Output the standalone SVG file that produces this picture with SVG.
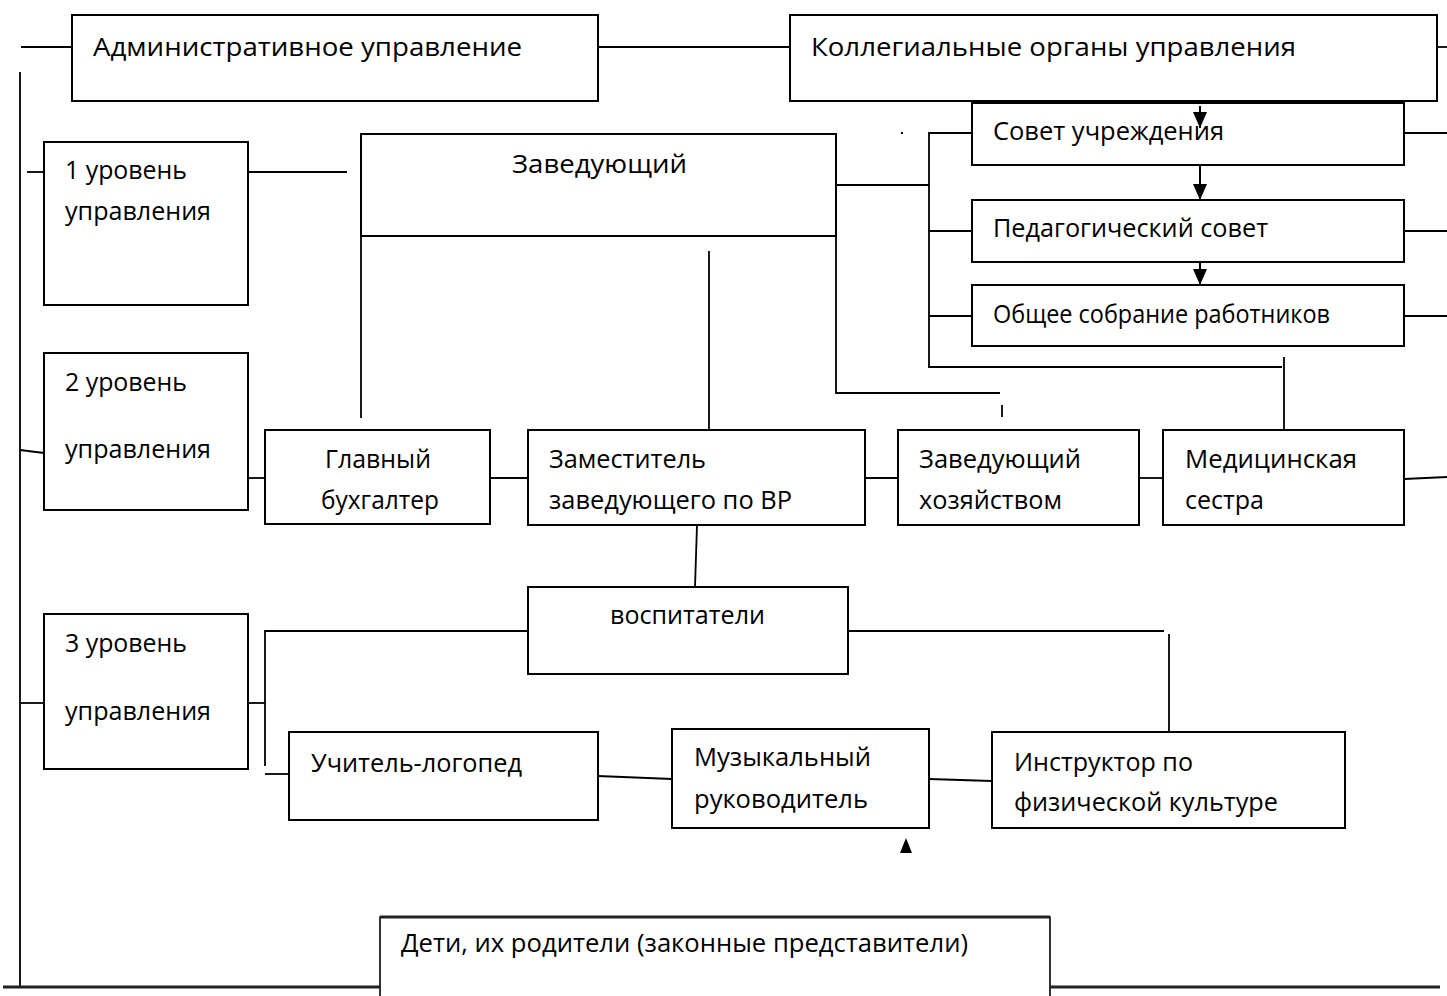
<svg xmlns="http://www.w3.org/2000/svg" width="1447" height="996" viewBox="0 0 1447 996">
<style>
.box{fill:#fff;stroke:#000;stroke-width:2}
.ln{fill:none;stroke:#000;stroke-width:1.8}
.thick{fill:none;stroke:#222;stroke-width:3}
.t{font-family:"Open Sans","Noto Sans","Liberation Sans",sans-serif;font-size:25px;fill:#000}
.arr{fill:none;stroke:#000;stroke-width:2;marker-end:url(#ah)}
</style>
<defs>
<marker id="ah" markerUnits="userSpaceOnUse" markerWidth="16" markerHeight="14" refX="16" refY="7" orient="auto">
<path d="M0,0 L16,7 L0,14 z" fill="#000"/>
</marker>
</defs>
<rect width="1447" height="996" fill="#fff"/>

<g id="admin">
<rect class="box" x="72" y="15" width="526" height="86"/>
<text class="t" x="93" y="56" textLength="429" lengthAdjust="spacingAndGlyphs">Административное управление</text>
</g>
<g id="collegial">
<rect class="box" x="790" y="15" width="647" height="86"/>
<text class="t" x="811" y="56" textLength="485" lengthAdjust="spacingAndGlyphs">Коллегиальные органы управления</text>
</g>
<g id="level1">
<rect class="box" x="44" y="142" width="204" height="163"/>
<text class="t" x="65" y="179" textLength="122" lengthAdjust="spacingAndGlyphs">1 уровень</text>
<text class="t" x="65" y="220" textLength="146" lengthAdjust="spacingAndGlyphs">управления</text>
</g>
<g id="head">
<rect class="box" x="361" y="134" width="475" height="102"/>
<text class="t" x="512" y="173" textLength="175" lengthAdjust="spacingAndGlyphs">Заведующий</text>
</g>
<g id="council">
<rect class="box" x="972" y="103" width="432" height="62"/>
<text class="t" x="993" y="140" textLength="231" lengthAdjust="spacingAndGlyphs">Совет учреждения</text>
</g>
<g id="pedcouncil">
<rect class="box" x="972" y="200" width="432" height="62"/>
<text class="t" x="993" y="237" textLength="275" lengthAdjust="spacingAndGlyphs">Педагогический совет</text>
</g>
<g id="assembly">
<rect class="box" x="972" y="285" width="432" height="61"/>
<text class="t" x="993" y="323" textLength="337" lengthAdjust="spacingAndGlyphs">Общее собрание работников</text>
</g>
<g id="level2">
<rect class="box" x="44" y="353" width="204" height="157"/>
<text class="t" x="65" y="391" textLength="122" lengthAdjust="spacingAndGlyphs">2 уровень</text>
<text class="t" x="65" y="458" textLength="146" lengthAdjust="spacingAndGlyphs">управления</text>
</g>
<g id="accountant">
<rect class="box" x="265" y="430" width="225" height="94"/>
<text class="t" x="325" y="468" textLength="106" lengthAdjust="spacingAndGlyphs">Главный</text>
<text class="t" x="321" y="509" textLength="118" lengthAdjust="spacingAndGlyphs">бухгалтер</text>
</g>
<g id="deputy">
<rect class="box" x="528" y="430" width="337" height="95"/>
<text class="t" x="549" y="468" textLength="157" lengthAdjust="spacingAndGlyphs">Заместитель</text>
<text class="t" x="549" y="509" textLength="243" lengthAdjust="spacingAndGlyphs">заведующего по ВР</text>
</g>
<g id="supply">
<rect class="box" x="898" y="430" width="241" height="95"/>
<text class="t" x="919" y="468" textLength="162" lengthAdjust="spacingAndGlyphs">Заведующий</text>
<text class="t" x="919" y="509" textLength="143" lengthAdjust="spacingAndGlyphs">хозяйством</text>
</g>
<g id="nurse">
<rect class="box" x="1163" y="430" width="241" height="95"/>
<text class="t" x="1185" y="468" textLength="172" lengthAdjust="spacingAndGlyphs">Медицинская</text>
<text class="t" x="1185" y="509" textLength="79" lengthAdjust="spacingAndGlyphs">сестра</text>
</g>
<g id="educators">
<rect class="box" x="528" y="587" width="320" height="87"/>
<text class="t" x="610" y="624" textLength="155" lengthAdjust="spacingAndGlyphs">воспитатели</text>
</g>
<g id="level3">
<rect class="box" x="44" y="614" width="204" height="155"/>
<text class="t" x="65" y="652" textLength="122" lengthAdjust="spacingAndGlyphs">3 уровень</text>
<text class="t" x="65" y="720" textLength="146" lengthAdjust="spacingAndGlyphs">управления</text>
</g>
<g id="speech">
<rect class="box" x="289" y="732" width="309" height="88"/>
<text class="t" x="311" y="772" textLength="211" lengthAdjust="spacingAndGlyphs">Учитель-логопед</text>
</g>
<g id="music">
<rect class="box" x="672" y="729" width="257" height="99"/>
<text class="t" x="694" y="766" textLength="177" lengthAdjust="spacingAndGlyphs">Музыкальный</text>
<text class="t" x="694" y="808" textLength="174" lengthAdjust="spacingAndGlyphs">руководитель</text>
</g>
<g id="pe">
<rect class="box" x="992" y="732" width="353" height="96"/>
<text class="t" x="1014" y="771" textLength="179" lengthAdjust="spacingAndGlyphs">Инструктор по</text>
<text class="t" x="1014" y="811" textLength="264" lengthAdjust="spacingAndGlyphs">физической культуре</text>
</g>
<g id="children">
<path d="M380,998 V917 H1050 V998" fill="#fff" stroke="#000" stroke-width="1.6"/>
<line x1="380" y1="917" x2="1050" y2="917" stroke="#222" stroke-width="3"/>
<text class="t" x="401" y="952" textLength="567" lengthAdjust="spacingAndGlyphs">Дети, их родители (законные представители)</text>
</g>

<g id="connectors">
<line class="ln" x1="21" y1="47" x2="72" y2="47"/>
<line class="ln" x1="598" y1="47" x2="790" y2="47"/>
<line class="ln" x1="1437" y1="47" x2="1447" y2="47"/>
<line class="ln" x1="20" y1="72" x2="20" y2="987"/>
<line class="ln" x1="27" y1="172" x2="44" y2="172"/>
<line class="ln" x1="248" y1="172" x2="347" y2="172"/>
<line class="ln" x1="361" y1="236" x2="361" y2="418"/>
<polyline class="ln" points="836,236 836,393 1000,393"/>
<line class="ln" x1="1002" y1="405" x2="1002" y2="417"/>
<line class="ln" x1="836" y1="185" x2="929" y2="185"/>
<polyline class="ln" points="972,133 929,133 929,367 1282,367"/>
<line class="ln" x1="929" y1="231" x2="972" y2="231"/>
<line class="ln" x1="929" y1="316" x2="972" y2="316"/>
<line class="ln" x1="1284" y1="357" x2="1284" y2="430"/>
<line class="ln" x1="1404" y1="133" x2="1447" y2="133"/>
<line class="ln" x1="1404" y1="231" x2="1447" y2="231"/>
<line class="ln" x1="1404" y1="316" x2="1447" y2="316"/>
<line class="ln" x1="709" y1="251" x2="709" y2="430"/>
<line class="arr" x1="1200" y1="106" x2="1200" y2="128"/>
<line class="arr" x1="1200" y1="166" x2="1200" y2="200"/>
<line class="arr" x1="1200" y1="263" x2="1200" y2="285"/>
<line class="ln" x1="20" y1="450" x2="44" y2="453"/>
<line class="ln" x1="248" y1="478" x2="265" y2="478"/>
<line class="ln" x1="490" y1="478" x2="528" y2="478"/>
<line class="ln" x1="865" y1="478" x2="898" y2="478"/>
<line class="ln" x1="1139" y1="478" x2="1163" y2="478"/>
<line class="ln" x1="1404" y1="479" x2="1447" y2="477"/>
<line class="ln" x1="697" y1="525" x2="695" y2="587"/>
<line class="ln" x1="20" y1="703" x2="44" y2="703"/>
<line class="ln" x1="248" y1="703" x2="265" y2="703"/>
<polyline class="ln" points="528,631 265,631 265,766"/>
<line class="ln" x1="265" y1="774" x2="289" y2="774"/>
<line class="ln" x1="598" y1="776" x2="672" y2="779"/>
<line class="ln" x1="929" y1="779" x2="992" y2="781"/>
<line class="ln" x1="848" y1="631" x2="1164" y2="631"/>
<line class="ln" x1="1169" y1="634" x2="1169" y2="732"/>
<line class="thick" x1="3" y1="987" x2="380" y2="987"/>
<line class="thick" x1="1050" y1="987" x2="1440" y2="987"/>
<rect x="901" y="132" width="2" height="2" fill="#000"/>
<polygon points="906,838 900,853 912,853" fill="#000"/>
</g>
</svg>
